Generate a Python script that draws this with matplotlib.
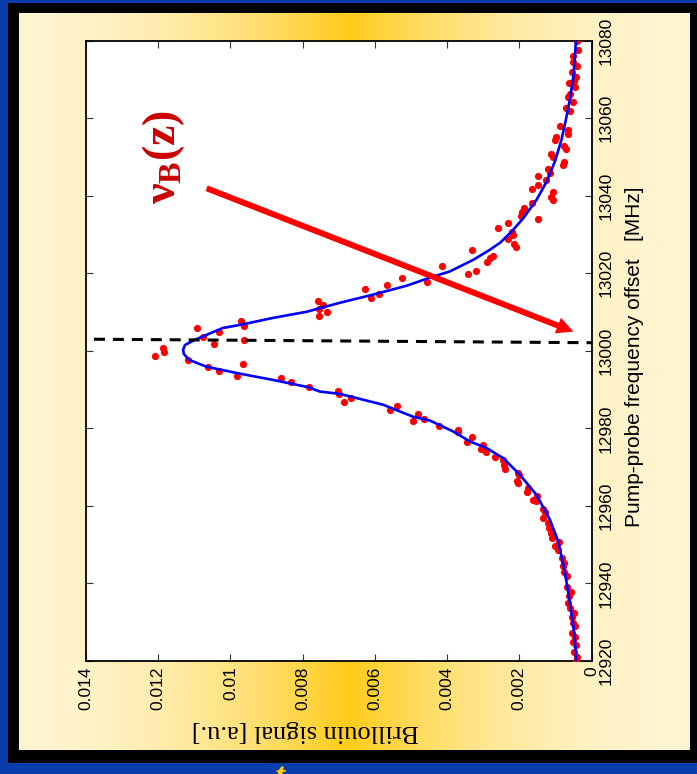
import numpy as np
import matplotlib
matplotlib.use("Agg")
import matplotlib.pyplot as plt
from matplotlib.patches import Rectangle, FancyArrowPatch

plt.rcParams['mathtext.fontset'] = 'custom'
plt.rcParams['mathtext.bf'] = 'Liberation Serif:bold'
plt.rcParams['mathtext.rm'] = 'Liberation Serif'

# measured Brillouin gain spectrum (frequency offset in MHz, signal in a.u.)
meas_freq = [12920.0, 12921.1, 12922.4, 12924.1, 12925.0, 12926.3, 12927.1, 12928.9, 12929.7, 12931.4,
             12932.3, 12933.6, 12934.9, 12936.8, 12937.9, 12939.2, 12941.8, 12943.0, 12944.5, 12945.4,
             12946.5, 12948.6, 12949.7, 12950.8, 12951.7, 12953.0, 12954.2, 12955.7, 12956.8, 12958.5,
             12959.2, 12961.3, 12961.5, 12962.6, 12963.7, 12964.7, 12965.9, 12966.5, 12968.0, 12968.6,
             12969.5, 12970.6, 12971.9, 12972.5, 12973.8, 12974.7, 12975.6, 12976.6, 12977.7, 12979.0,
             12979.6, 12980.7, 12981.8, 12982.5, 12983.7, 12984.8, 12985.9, 12986.7, 12987.8, 12988.8,
             12989.7, 12990.8, 12991.9, 12993.0, 12993.6, 12994.8, 12995.8, 12996.6, 12997.7, 12998.8,
             12999.8, 13000.7, 13001.8, 13002.8, 13003.7, 13004.8, 13006.0, 13006.5, 13007.7, 13008.9,
             13009.9, 13010.8, 13011.7, 13012.9, 13013.6, 13014.7, 13015.9, 13017.0, 13017.7, 13018.8,
             13019.9, 13020.7, 13021.8, 13022.9, 13023.9, 13024.4, 13025.9, 13026.9, 13027.6, 13028.8,
             13029.9, 13030.7, 13031.7, 13033.0, 13034.0, 13034.8, 13035.7, 13036.8, 13038.1, 13038.8,
             13039.8, 13040.9, 13041.7, 13042.8, 13044.0, 13045.2, 13045.9, 13046.8, 13048.0, 13048.7,
             13049.9, 13050.8, 13052.0, 13052.9, 13054.5, 13055.2, 13056.0, 13057.0, 13058.1, 13061.8,
             13062.6, 13064.1, 13065.6, 13066.3, 13068.1, 13069.2, 13069.5, 13070.6, 13071.8, 13073.4,
             13074.4, 13076.0, 13077.7, 13080.0]
meas_signal = [0.00043, 0.00041, 0.00048, 0.00043, 0.00052, 0.00046, 0.00055, 0.00046, 0.00050, 0.00055,
               0.00048, 0.00060, 0.00066, 0.00061, 0.00058, 0.00067, 0.00069, 0.00075, 0.00080, 0.00076,
               0.00083, 0.00092, 0.00101, 0.00089, 0.00110, 0.00112, 0.00117, 0.00120, 0.00133, 0.00129,
               0.00133, 0.00155, 0.00161, 0.00152, 0.00178, 0.00177, 0.00203, 0.00207, 0.00200, 0.00203,
               0.00239, 0.00241, 0.00244, 0.00267, 0.00292, 0.00307, 0.00300, 0.00346, 0.00330, 0.00369,
               0.00369, 0.00422, 0.00494, 0.00463, 0.00480, 0.00558, 0.00540, 0.00685, 0.00666, 0.00699,
               0.00701, 0.00782, 0.00832, 0.00861, 0.00983, 0.01032, 0.01061, 0.00966, 0.01118, 0.01209,
               0.01183, 0.01188, 0.01046, 0.00962, 0.01075, 0.01032, 0.01093, 0.00962, 0.00971, 0.00755,
               0.00733, 0.00755, 0.00743, 0.00758, 0.00611, 0.00588, 0.00627, 0.00566, 0.00456, 0.00526,
               0.00341, 0.00321, 0.00415, 0.00290, 0.00281, 0.00274, 0.00330, 0.00209, 0.00215, 0.00230,
               0.00217, 0.00220, 0.00258, 0.00230, 0.00149, 0.00195, 0.00193, 0.00186, 0.00166, 0.00107,
               0.00112, 0.00106, 0.00166, 0.00149, 0.00126, 0.00149, 0.00115, 0.00120, 0.00079, 0.00075,
               0.00107, 0.00111, 0.00071, 0.00075, 0.00100, 0.00098, 0.00066, 0.00064, 0.00087, 0.00060,
               0.00071, 0.00050, 0.00064, 0.00060, 0.00046, 0.00062, 0.00048, 0.00043, 0.00055, 0.00041,
               0.00052, 0.00050, 0.00037, 0.00041]

# fitted curve
fit_freq = [12920.0, 12922.0, 12928.9, 12935.7, 12942.6, 12950.8, 12956.4, 12962.8, 12968.0, 12972.3,
            12974.9, 12976.6, 12979.2, 12982.0, 12983.0, 12986.1, 12988.9, 12989.5, 12990.7, 12992.5,
            12994.1, 12995.9, 12997.7, 12999.2, 13000.3, 13001.5, 13002.8, 13005.9, 13006.7, 13008.5,
            13010.1, 13012.4, 13014.5, 13016.8, 13018.9, 13020.5, 13023.5, 13026.1, 13027.9, 13030.8,
            13034.2, 13039.0, 13043.7, 13048.9, 13054.5, 13059.6, 13064.8, 13070.8, 13076.0, 13080.0]
fit_signal = [0.00043, 0.00043, 0.00050, 0.00061, 0.00073, 0.00092, 0.00115, 0.00152, 0.00198, 0.00244,
              0.00290, 0.00336, 0.00383, 0.00447, 0.00494, 0.00577, 0.00697, 0.00752, 0.00788, 0.00882,
              0.00973, 0.01066, 0.01115, 0.01129, 0.01131, 0.01126, 0.01100, 0.01021, 0.00973, 0.00882,
              0.00788, 0.00697, 0.00605, 0.00512, 0.00447, 0.00392, 0.00327, 0.00281, 0.00253, 0.00221,
              0.00189, 0.00152, 0.00124, 0.00101, 0.00083, 0.00071, 0.00060, 0.00050, 0.00046, 0.00043]

# reference frequency line and arrow end points
ref_line_signal = [0.01378, 0.0]
ref_line_freq = [13003.0, 13002.1]
arrow_start = (0.01073, 13042.2)
arrow_end = (0.00043, 13004.7)

freq_ticks = [12920, 12940, 12960, 12980, 13000, 13020, 13040, 13060, 13080]
signal_ticks = [0, 0.002, 0.004, 0.006, 0.008, 0.01, 0.012, 0.014]
signal_labels = ['0', '0.002', '0.004', '0.006', '0.008', '0.01', '0.012', '0.014']

W, H = 697, 774
fig = plt.figure(figsize=(W / 100, H / 100), dpi=100)
fig.patch.set_facecolor('#0b3cab')

# slide frame: black shadow then the yellow panel
fig.patches.append(Rectangle((8 / W, 1 - 763 / H), 689 / W, 760 / H, transform=fig.transFigure,
                             facecolor='black', edgecolor='none', zorder=-5))
bg = fig.add_axes([19 / W, 1 - 750 / H, 671 / W, 737 / H])
bg.set_zorder(-1)
t = np.linspace(0, 1, 400)
w = 1 - np.clip(np.abs(t - 0.49) / 0.51, 0, 1)
w = w ** 2
cream = np.array([1.0, 0.96, 0.82])
gold = np.array([1.0, 0.80, 0.10])
grad = cream[None, :] * (1 - w[:, None]) + gold[None, :] * w[:, None]
bg.imshow(grad[None, :, :], aspect='auto', extent=[0, 1, 0, 1])
bg.axis('off')

ax = fig.add_axes([86 / W, 1 - 661 / H, 505.5 / W, 620.3 / H])
ax.set_facecolor('white')

ax.plot(meas_signal, meas_freq, 'o', color='#ff0000', markersize=5.2, markeredgewidth=0, zorder=3)
ax.plot(fit_signal, fit_freq, '-', color='#0000ff', lw=1.9, zorder=4, solid_joinstyle='round')
ax.plot(ref_line_signal, ref_line_freq, '--', color='black', lw=2.2, dashes=(3.6, 2.6), zorder=5)

arr = FancyArrowPatch(arrow_start, arrow_end, arrowstyle='simple,head_length=1.2,head_width=1.2,tail_width=0.43',
                      mutation_scale=10, color='#ff0000', lw=0, zorder=6)
ax.add_patch(arr)

fig.text(164 / W, 1 - 157 / H, r'$\mathbf{ν_{B}(z)}$',
         rotation=90, ha='center', va='center', fontsize=33, color='#cc0000')

ax.set_xlim(0.014, 0)
ax.set_ylim(12920, 13080)
ax.set_xticks(signal_ticks)
ax.set_xticklabels(signal_labels)
ax.set_yticks(freq_ticks)
ax.set_yticklabels([str(v) for v in freq_ticks])

ax.tick_params(axis='both', direction='in', length=5, width=0.8, color='#333333',
               labelsize=12.5, top=True, bottom=True, left=True, right=True)
ax.tick_params(axis='y', labelleft=False, labelright=True, pad=5)
ax.tick_params(axis='x', pad=4)
for lab in ax.get_xticklabels():
    lab.set_rotation(90)
    lab.set_family('Liberation Sans')
for lab in ax.get_yticklabels():
    lab.set_rotation(90)
    lab.set_va('center')
    lab.set_family('Liberation Sans')
for sp in ax.spines.values():
    sp.set_linewidth(1.3)

fig.text(305 / W, 1 - 731 / H, 'Brillouin signal [a.u.]', rotation=180, ha='center', va='center',
         fontsize=19, family='Liberation Serif')
fig.text(634 / W, 1 - 356.5 / H, 'Pump-probe frequency offset   [MHz]', rotation=90, ha='center',
         va='center', fontsize=15, family='Liberation Sans')

fig.text(280 / W, 1 - 762 / H, 't', ha='center', va='top', fontsize=26, fontweight='bold',
         fontstyle='italic', color='#ffcc00', family='Liberation Serif', zorder=10)

fig.savefig('out.png', dpi=100, facecolor=fig.get_facecolor())
